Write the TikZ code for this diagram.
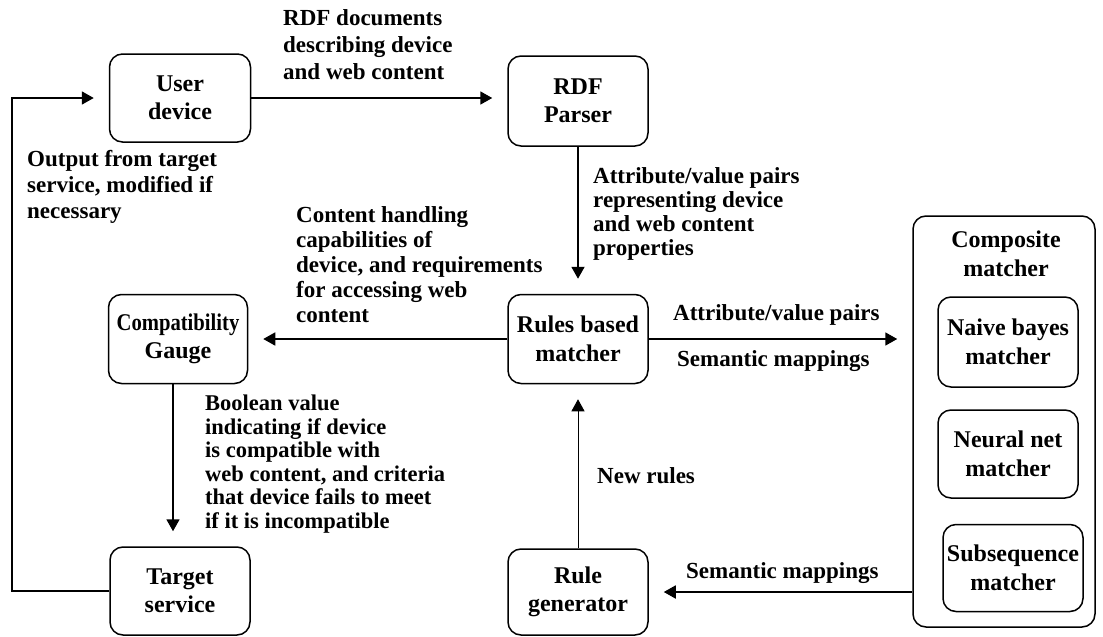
\documentclass[tikz,border=0pt]{standalone}
\usepackage{fontspec}
\usepackage{graphicx}
\setmainfont{Liberation Serif}
\usetikzlibrary{arrows.meta}
\begin{document}
\begin{tikzpicture}[x=1pt,y=-1pt,
  box/.style={draw, line width=1.5pt, rounded corners=13pt, align=center, inner sep=0pt,
    font=\bfseries\fontsize{24}{28.5}\selectfont},
  lbl/.style={anchor=north west, align=left, inner sep=0pt,
    font=\bfseries\fontsize{23}{24}\selectfont},
  arr/.style={line width=1.8pt, -{Triangle[length=12pt,width=13pt]}, shorten >=15pt}]
\useasboundingbox (0,0) rectangle (1103,637);
\fill[white] (0,0) rectangle (1103,637);

% boxes
\node[box, minimum width=141pt, minimum height=88pt] (ud) at (180,98) {User\\device};
\node[box, minimum width=140pt, minimum height=90pt] (rdf) at (578,101) {RDF\\Parser};
\node[box, minimum width=139pt, minimum height=89pt] (compat) at (178,339) {\scalebox{0.86}[1]{Compatibility}\\Gauge};
\node[box, minimum width=140pt, minimum height=89pt] (rules) at (578,339) {Rules based\\matcher};
\node[box, minimum width=140pt, minimum height=88pt] (target) at (180,591) {Target\\service};
\node[box, minimum width=140pt, minimum height=86pt] (gen) at (578,592) {Rule\\generator};
\node[box, minimum width=182pt, minimum height=411pt] (comp) at (1004,421.5) {};
\node[align=center, inner sep=0pt, font=\bfseries\fontsize{24}{28.5}\selectfont] (comptitle) at (1006,254) {Composite\\matcher};
\node[box, minimum width=140pt, minimum height=90pt] (nb) at (1008,342) {Naive bayes\\matcher};
\node[box, minimum width=140pt, minimum height=88pt] (nn) at (1008,454) {Neural net\\matcher};
\node[box, minimum width=140pt, minimum height=87pt] (sub) at (1013,568) {Subsequence\\matcher};

% connectors
\coordinate (loopx) at (12,0);
\draw[arr] (ud.east) -- (ud.east -| rdf.west);
\draw[arr] (rdf.south) -- (rules.north);
\draw[arr] (rules.west) -- (compat.east);
\draw[arr] (rules.east) -- (rules.east -| comp.west);
\draw[arr] ([xshift=-5pt]compat.south) -- ([xshift=-5pt]compat.south |- target.north);
\draw[arr] (target.west) -| (loopx |- ud.west) -- (ud.west);
\draw[arr, line width=1pt] (gen.north) -- (rules.south);
\draw[arr] (comp.west |- gen.east) -- (gen.east);

% labels
\node[lbl, font=\bfseries\fontsize{23}{27}\selectfont] (l1) at (283,9) {RDF documents\\describing device\\and web content};
\node[lbl, font=\bfseries\fontsize{23}{26}\selectfont] (l2) at (27,150) {Output from target\\service, modified if\\necessary};
\node[lbl] (l3) at (593,167) {Attribute/value pairs\\representing device\\and web content\\properties};
\node[lbl, font=\bfseries\fontsize{23}{25}\selectfont] (l4) at (296,206) {Content handling\\capabilities of\\device, and requirements\\for accessing web\\content};
\node[lbl, font=\bfseries\fontsize{22.5}{23.5}\selectfont] (l5) at (205,395) {Boolean value\\indicating if device\\is compatible with\\web content, and criteria\\that device fails to meet\\if it is incompatible};
\node[lbl] (l6) at (673,304) {Attribute/value pairs};
\node[lbl] (l7) at (677,350) {Semantic mappings};
\node[lbl] (l8) at (597,467) {New rules};
\node[lbl] (l9) at (686,562) {Semantic mappings};
\end{tikzpicture}
\end{document}
